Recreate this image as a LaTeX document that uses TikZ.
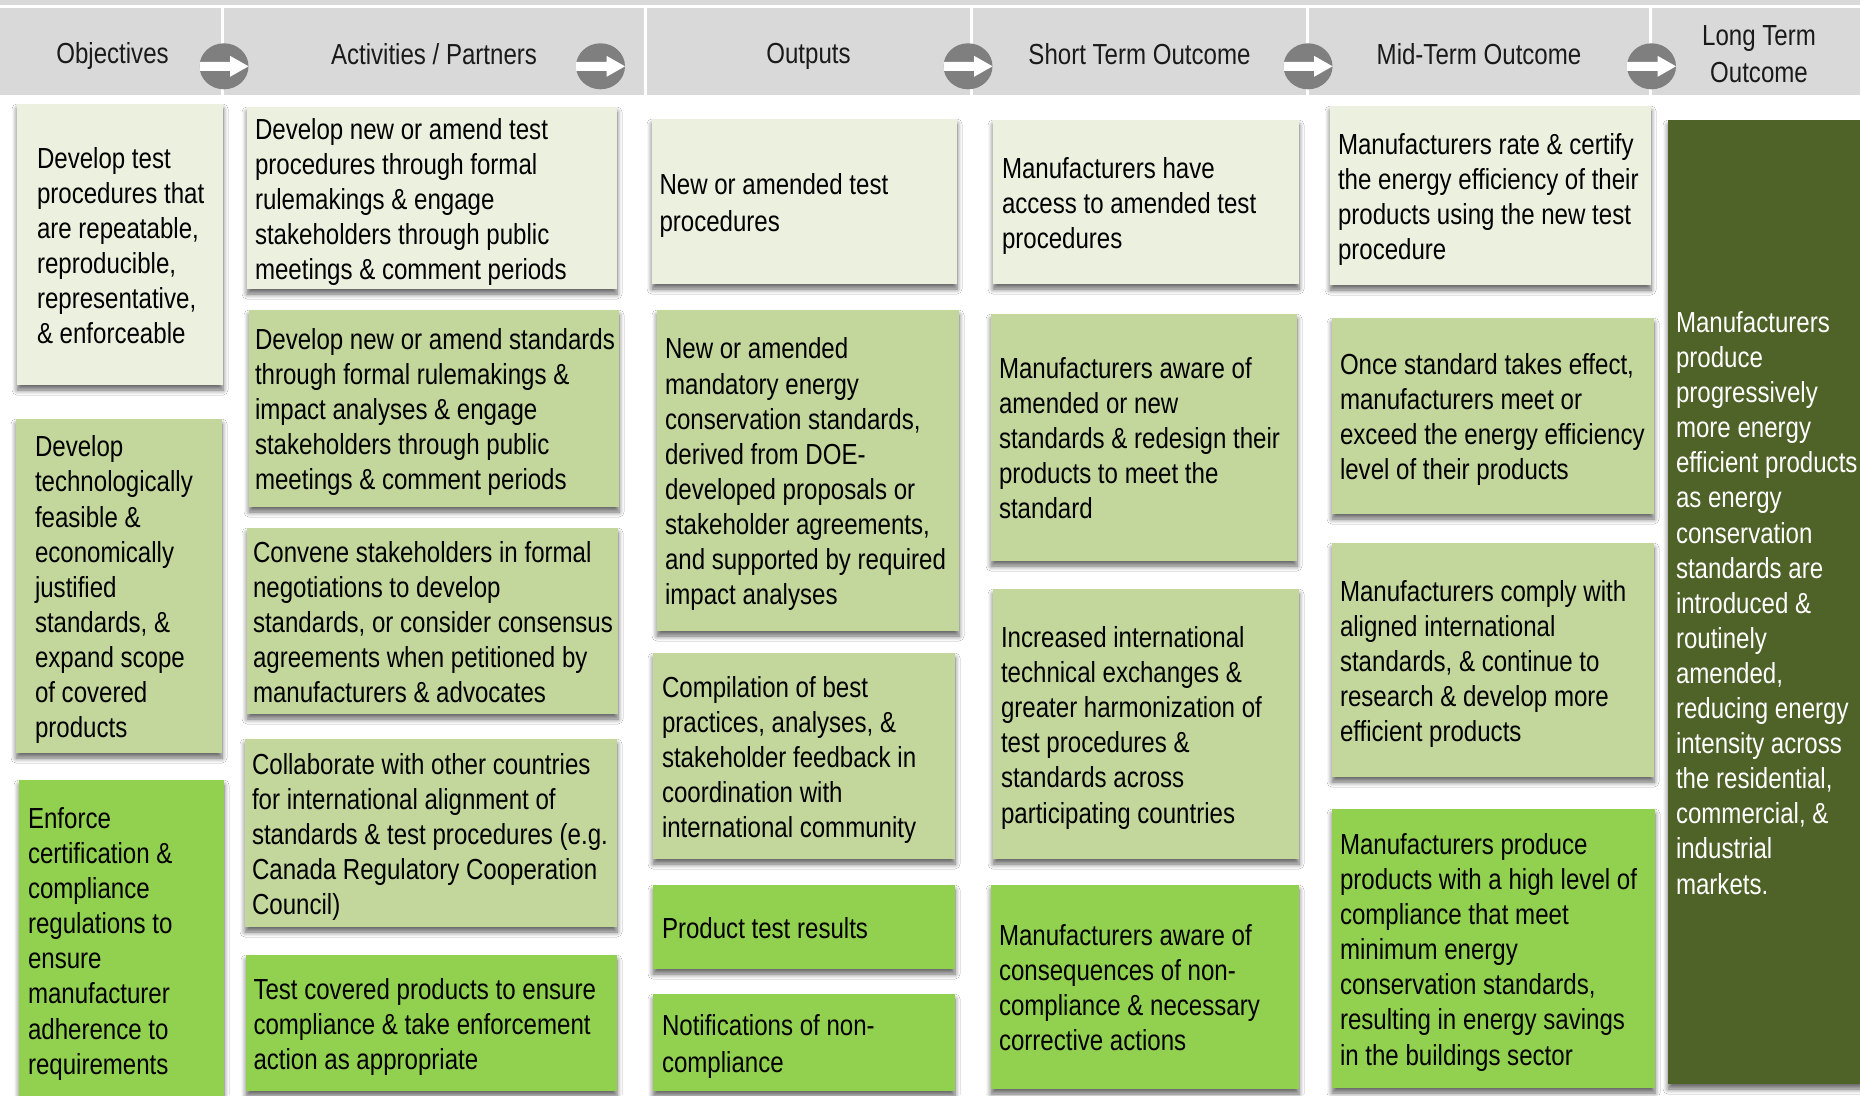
\documentclass[tikz,border=0pt]{standalone}
\usepackage{fontspec}
\setmainfont[FakeStretch=0.83]{Liberation Sans}
\usetikzlibrary{shapes.geometric,fit,shadows.blur}
\definecolor{hdr}{HTML}{D9D9D9}
\definecolor{circgray}{HTML}{7F7F7F}
\definecolor{lite}{HTML}{EBF1DE}
\definecolor{midg}{HTML}{C3D69B}
\definecolor{brig}{HTML}{92D050}
\definecolor{darkg}{HTML}{4F6228}
\definecolor{htxt}{HTML}{1A1A1A}
\newcommand{\ls}{\rule[-6.5bp]{0pt}{35.5bp}}
\newcommand{\hs}{\rule[-5bp]{0pt}{35bp}}
\begin{document}
\begin{tikzpicture}[x=1bp,y=-1bp,
  every node/.style={inner sep=0pt, outer sep=0pt},
  hcell/.style={fill=hdr},
  htext/.style={align=center, font=\fontsize{29bp}{34.5bp}\selectfont, text=htxt},
  hcircle/.style={ellipse, fill=circgray, minimum width=49bp, minimum height=46bp},
  box/.style={blur shadow={shadow xshift=0bp, shadow yshift=-5bp, shadow blur radius=5bp, shadow blur steps=6, shadow opacity=60}},
  txt/.style={anchor=west, align=left, font=\fontsize{29bp}{35.1bp}\selectfont, text=black},
  wtxt/.style={txt, text=white}
]
\useasboundingbox (0,0) rectangle (1860,1095);
\clip (0,0) rectangle (1860,1095);
\fill[white] (0,0) rectangle (1860,1095);

% header
\node[hcell, fit={(0,0) (1860,5)}] (topstrip) {};
\node[hcell, fit={(0,8.3) (221,95)}] (h1) {};
\node[hcell, fit={(224,8.3) (644,95)}] (h2) {};
\node[hcell, fit={(647,8.3) (970,95)}] (h3) {};
\node[hcell, fit={(973,8.3) (1306,95)}] (h4) {};
\node[hcell, fit={(1309,8.3) (1649,95)}] (h5) {};
\node[hcell, fit={(1652,8.3) (1860,95)}] (h6) {};
\node[htext] (h1t) at ([xshift=2bp]h1.center) {\hs Objectives\hs};
\node[htext] (h2t) at (h2.center) {\hs Activities / Partners\hs};
\node[htext] (h3t) at (h3.center) {\hs Outputs\hs};
\node[htext] (h4t) at (h4.center) {\hs Short Term Outcome\hs};
\node[htext] (h5t) at (h5.center) {\hs Mid-Term Outcome\hs};
\node[htext] (h6t) at ([xshift=3bp]h6.center) {\hs Long Term\\Outcome\hs};

\foreach \n/\cx in {1/224, 2/600.5, 3/968, 4/1308, 5/1651.5} {
  \node[hcircle] (c\n) at (\cx,66.3) {};
  \fill[white, shift={(c\n.center)}] (-24.5,-4.5) -- (6,-4.5) -- (6,-10.5) -- (24.5,0) -- (6,10.5) -- (6,4.5) -- (-24.5,4.5) -- cycle;
}

% Objectives
\node[box, fill=lite, fit={(17,104) (223,385)}] (o1) {};
\node[txt] (o1t) at ([xshift=20bp]o1.west) {\ls Develop test\\procedures that\\are repeatable,\\reproducible,\\representative,\\\& enforceable\ls};
\node[box, fill=midg, fit={(16,419) (222,753)}] (o2) {};
\node[txt] (o2t) at ([xshift=19bp]o2.west) {\ls Develop\\technologically\\feasible \&\\economically\\justified\\standards, \&\\expand scope\\of covered\\products\ls};
\node[box, fill=brig, fit={(19,780) (224,1100)}] (o3) {};
\node[txt] (o3t) at ([xshift=9bp]o3.west) {\ls Enforce\\certification \&\\compliance\\regulations to\\ensure\\manufacturer\\adherence to\\requirements\ls};

% Activities
\node[box, fill=lite, fit={(247,107) (617,289)}] (a1) {};
\node[txt] (a1t) at ([xshift=8bp]a1.west) {\ls Develop new or amend test\\procedures through formal\\rulemakings \& engage\\stakeholders through public\\meetings \& comment periods\ls};
\node[box, fill=midg, fit={(249,310) (619,507)}] (a2) {};
\node[txt] (a2t) at ([xshift=6bp]a2.west) {\ls Develop new or amend standards\\through formal rulemakings \&\\impact analyses \& engage\\stakeholders through public\\meetings \& comment periods\ls};
\node[box, fill=midg, fit={(247,528) (618,714)}] (a3) {};
\node[txt] (a3t) at ([xshift=6bp]a3.west) {\ls Convene stakeholders in formal\\negotiations to develop\\standards, or consider consensus\\agreements when petitioned by\\manufacturers \& advocates\ls};
\node[box, fill=midg, fit={(245,739) (617,927)}] (a4) {};
\node[txt] (a4t) at ([xshift=7bp]a4.west) {\ls Collaborate with other countries\\for international alignment of\\standards \& test procedures (e.g.\\Canada Regulatory Cooperation\\Council)\ls};
\node[box, fill=brig, fit={(246,955) (617,1091)}] (a5) {};
\node[txt] (a5t) at ([xshift=7.5bp]a5.west) {\ls Test covered products to ensure\\compliance \& take enforcement\\action as appropriate\ls};

% Outputs
\node[box, fill=lite, fit={(652,119) (957,284)}] (p1) {};
\node[txt] (p1t) at ([xshift=7.5bp]p1.west) {\ls New or amended test\\procedures\ls};
\node[box, fill=midg, fit={(657,310) (959,631)}] (p2) {};
\node[txt] (p2t) at ([xshift=8bp]p2.west) {\ls New or amended\\mandatory energy\\conservation standards,\\derived from DOE-\\developed proposals or\\stakeholder agreements,\\and supported by required\\impact analyses\ls};
\node[box, fill=midg, fit={(653,653) (955,859)}] (p3) {};
\node[txt] (p3t) at ([xshift=9bp]p3.west) {\ls Compilation of best\\practices, analyses, \&\\stakeholder feedback in\\coordination with\\international community\ls};
\node[box, fill=brig, fit={(653,885) (955,969)}] (p4) {};
\node[txt] (p4t) at ([xshift=9bp]p4.west) {\ls Product test results\ls};
\node[box, fill=brig, fit={(653,994) (955,1091)}] (p5) {};
\node[txt] (p5t) at ([xshift=9bp]p5.west) {\ls Notifications of non-\\compliance\ls};

% Short term
\node[box, fill=lite, fit={(993,120) (1299,284)}] (s1) {};
\node[txt] (s1t) at ([xshift=9bp]s1.west) {\ls Manufacturers have\\access to amended test\\procedures\ls};
\node[box, fill=midg, fit={(991,314) (1297,561)}] (s2) {};
\node[txt] (s2t) at ([xshift=8bp]s2.west) {\ls Manufacturers aware of\\amended or new\\standards \& redesign their\\products to meet the\\standard\ls};
\node[box, fill=midg, fit={(993,589) (1299,859)}] (s3) {};
\node[txt] (s3t) at ([xshift=8bp]s3.west) {\ls Increased international\\technical exchanges \&\\greater harmonization of\\test procedures \&\\standards across\\participating countries\ls};
\node[box, fill=brig, fit={(991,885) (1299,1089)}] (s4) {};
\node[txt] (s4t) at ([xshift=8bp]s4.west) {\ls Manufacturers aware of\\consequences of non-\\compliance \& necessary\\corrective actions\ls};

% Mid term
\node[box, fill=lite, fit={(1330,106) (1651,285)}] (m1) {};
\node[txt] (m1t) at ([xshift=8bp]m1.west) {\ls Manufacturers rate \& certify\\the energy efficiency of their\\products using the new test\\procedure\ls};
\node[box, fill=midg, fit={(1332,318) (1654,514)}] (m2) {};
\node[txt] (m2t) at ([xshift=8bp]m2.west) {\ls Once standard takes effect,\\manufacturers meet or\\exceed the energy efficiency\\level of their products\ls};
\node[box, fill=midg, fit={(1332,543) (1654,777)}] (m3) {};
\node[txt] (m3t) at ([xshift=8bp]m3.west) {\ls Manufacturers comply with\\aligned international\\standards, \& continue to\\research \& develop more\\efficient products\ls};
\node[box, fill=brig, fit={(1332,809) (1655,1088)}] (m4) {};
\node[txt] (m4t) at ([xshift=8bp]m4.west) {\ls Manufacturers produce\\products with a high level of\\compliance that meet\\minimum energy\\conservation standards,\\resulting in energy savings\\in the buildings sector\ls};

% Long term
\node[box, fill=darkg, fit={(1668,120) (1875,1084)}] (l1) {};
\node[wtxt] (l1t) at ([xshift=8bp]l1.west) {\ls Manufacturers\\produce\\progressively\\more energy\\efficient products\\as energy\\conservation\\standards are\\introduced \&\\routinely\\amended,\\reducing energy\\intensity across\\the residential,\\commercial, \&\\industrial\\markets.\ls};
\end{tikzpicture}
\end{document}
